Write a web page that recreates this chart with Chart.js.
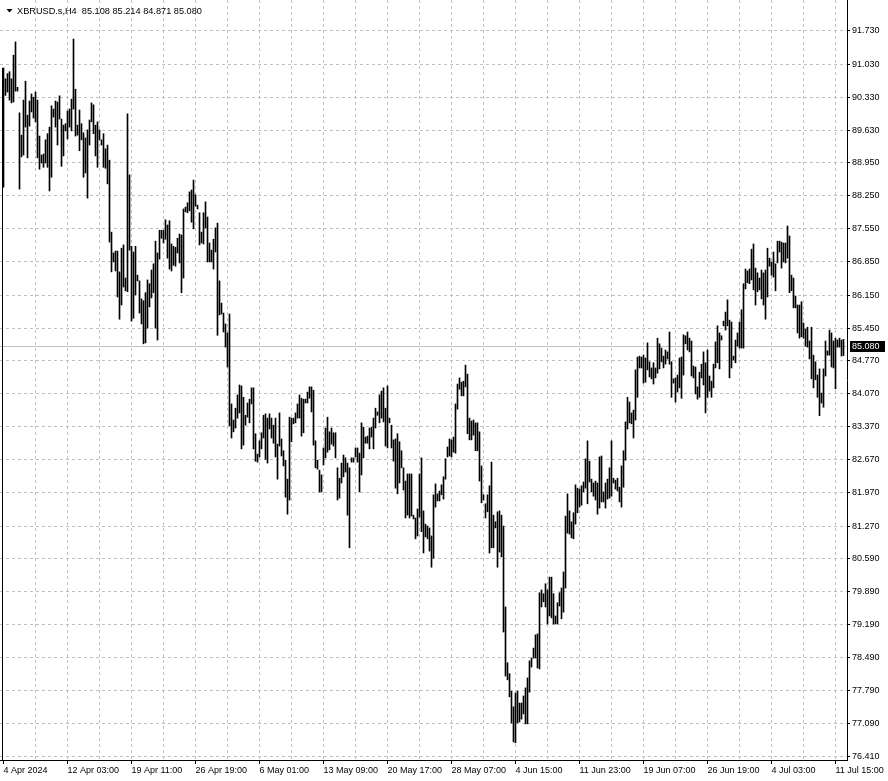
<!DOCTYPE html>
<html>
<head>
<meta charset="utf-8">
<script src="https://cdn.jsdelivr.net/npm/chart.js@4.4.1/dist/chart.umd.min.js"></script>
<style>
  html, body { margin: 0; padding: 0; background: #fff; }
  canvas { display: block; }
</style>
</head>
<body>
<canvas id="chart" width="888" height="781"></canvas>
<script>
const symbol = "XBRUSD.s,H4";
const lastBar = [85.108, 85.214, 84.871, 85.080]; // open high low close

// H4 bars (high / low per bar)
const highs = [
  90.95, 90.72, 90.83, 90.87, 90.72, 91.22, 91.50, 90.54, 90.00, 89.53,
  90.27, 90.67, 89.95, 90.25, 90.40, 90.33, 90.44, 90.27, 89.51, 89.11,
  89.13, 89.43, 89.56, 89.70, 90.15, 90.08, 90.25, 90.23, 90.36, 89.87,
  89.74, 89.77, 90.04, 90.08, 90.29, 91.56, 90.50, 89.74, 90.06, 89.77,
  89.58, 89.47, 89.64, 89.85, 90.21, 90.17, 89.74, 89.81, 89.64, 89.43,
  89.56, 89.24, 89.32, 89.00, 87.48, 87.04, 87.08, 87.08, 86.64, 87.14,
  87.21, 86.51, 89.98, 88.69, 87.18, 87.06, 87.18, 86.57, 86.45, 86.07,
  86.03, 86.20, 86.47, 86.39, 86.68, 86.81, 87.29, 87.04, 87.52, 87.52,
  87.52, 87.74, 87.63, 87.72, 87.23, 87.18, 87.16, 87.35, 87.44, 87.42,
  87.97, 88.01, 88.10, 88.33, 88.37, 88.58, 88.27, 88.05, 87.89, 87.48,
  87.89, 88.12, 87.80, 87.25, 87.10, 87.33, 87.57, 87.67, 86.45, 85.98,
  85.77, 85.54, 85.35, 85.75, 83.85, 83.51, 83.76, 84.04, 84.25, 84.23,
  83.99, 83.61, 83.87, 83.95, 84.19, 84.19, 83.22, 82.79, 83.07, 83.24,
  83.61, 83.64, 83.55, 83.64, 83.55, 83.40, 83.55, 83.00, 83.66, 83.11,
  82.86, 82.66, 82.26, 83.57, 83.55, 83.55, 83.66, 83.85, 84.04, 83.97,
  83.95, 83.95, 84.10, 84.21, 84.21, 84.14, 83.07, 82.66, 82.45, 82.35,
  82.92, 83.34, 83.57, 83.26, 83.34, 83.24, 83.24, 82.50, 82.28, 82.60,
  82.77, 82.71, 82.60, 82.50, 82.71, 82.71, 82.92, 82.92, 82.81, 83.45,
  83.36, 83.15, 83.17, 83.34, 83.36, 83.55, 83.76, 83.68, 84.04, 84.12,
  84.19, 83.76, 84.23, 83.55, 83.40, 83.09, 83.11, 83.22, 83.05, 82.86,
  82.50, 82.22, 82.37, 82.37, 82.37, 81.50, 81.44, 81.63, 82.37, 82.71,
  81.59, 81.31, 81.27, 81.23, 81.06, 81.93, 82.16, 81.95, 82.01, 82.14,
  82.31, 82.69, 82.94, 83.11, 83.09, 83.15, 83.85, 84.27, 84.40, 84.31,
  84.33, 84.67, 84.48, 83.55, 83.49, 83.51, 83.45, 83.45, 83.26, 82.54,
  81.93, 81.74, 81.93, 82.12, 82.62, 81.50, 81.36, 81.57, 81.59, 81.50,
  81.27, 79.56, 78.38, 78.15, 77.78, 77.45, 77.74, 77.78, 77.53, 77.53,
  77.68, 77.85, 78.06, 78.42, 78.48, 78.69, 78.97, 78.99, 79.86, 79.92,
  79.84, 80.05, 79.92, 80.19, 80.19, 79.84, 79.37, 79.65, 79.86, 79.96,
  80.30, 81.48, 81.95, 81.59, 81.36, 81.55, 82.14, 82.07, 82.05, 82.12,
  82.20, 82.69, 83.07, 82.64, 82.26, 82.18, 82.22, 82.18, 82.73, 82.75,
  81.99, 82.18, 82.26, 82.50, 83.07, 82.28, 82.24, 82.28, 82.09, 82.54,
  82.86, 83.47, 83.99, 83.89, 83.66, 83.72, 84.57, 84.84, 84.86, 84.84,
  84.88, 84.82, 85.14, 84.74, 84.61, 84.72, 84.61, 85.24, 85.12, 85.03,
  84.86, 84.99, 84.95, 85.37, 84.74, 84.38, 84.40, 84.46, 84.82, 84.84,
  85.31, 85.29, 85.37, 85.24, 85.18, 84.65, 84.63, 84.21, 84.52, 84.69,
  84.95, 84.72, 84.99, 84.44, 84.33, 84.69, 85.16, 85.50, 85.35, 85.29,
  85.60, 85.79, 86.05, 85.62, 85.58, 84.86, 85.20, 85.35, 85.58, 85.84,
  86.39, 86.70, 86.66, 86.70, 87.12, 87.23, 86.72, 86.62, 86.51, 86.68,
  86.62, 86.68, 87.14, 86.93, 86.85, 87.06, 86.81, 87.29, 87.29, 87.27,
  87.25, 87.25, 87.61, 87.40, 86.57, 86.51, 86.13, 85.94, 85.94, 86.01,
  85.56, 85.43, 85.47, 85.18, 85.47, 84.88, 84.74, 84.46, 84.59, 84.08,
  84.59, 85.18, 84.97, 85.41, 85.35, 85.18, 85.24, 85.20, 85.24, 85.20,
  85.214
];
const lows = [
  88.43, 90.37, 90.44, 90.27, 90.21, 90.23, 90.46, 90.46, 88.39, 89.07,
  89.11, 89.70, 89.05, 89.72, 90.02, 89.89, 89.81, 89.05, 88.81, 88.94,
  88.85, 88.94, 88.85, 88.35, 88.64, 89.91, 89.70, 89.32, 89.87, 88.87,
  89.09, 89.62, 89.45, 89.70, 89.62, 90.08, 89.51, 89.53, 89.20, 89.43,
  88.64, 88.73, 88.20, 89.32, 89.81, 89.56, 89.09, 88.85, 89.43, 89.32,
  88.85, 88.83, 88.50, 87.27, 86.64, 86.85, 86.66, 86.11, 85.64, 85.94,
  86.32, 86.24, 86.22, 87.10, 85.60, 85.66, 86.15, 86.45, 85.77, 85.54,
  85.12, 85.14, 85.45, 85.90, 86.09, 86.20, 85.45, 85.20, 86.91, 87.35,
  87.25, 87.33, 86.93, 86.70, 86.66, 86.78, 86.76, 87.04, 86.83, 86.20,
  86.51, 87.91, 87.89, 87.93, 87.69, 87.55, 88.03, 87.97, 87.21, 87.25,
  87.23, 87.57, 86.85, 86.85, 86.85, 86.70, 87.06, 85.30, 85.73, 85.75,
  85.37, 85.05, 84.63, 83.39, 83.13, 83.26, 83.34, 83.55, 83.66, 82.90,
  82.98, 83.40, 83.57, 83.45, 83.85, 82.90, 82.64, 82.62, 82.73, 82.90,
  83.13, 82.68, 82.60, 83.32, 83.13, 83.02, 82.73, 82.26, 82.96, 82.75,
  82.54, 81.88, 81.52, 81.82, 83.05, 83.43, 83.45, 83.55, 83.55, 83.17,
  83.24, 83.87, 83.87, 83.97, 83.68, 82.98, 82.50, 82.47, 81.99, 81.99,
  82.56, 82.71, 82.83, 82.88, 83.00, 82.96, 82.71, 81.82, 81.86, 82.18,
  82.31, 82.41, 81.50, 80.81, 82.62, 82.62, 82.73, 82.62, 81.99, 82.35,
  82.71, 83.02, 83.02, 82.90, 83.15, 82.90, 83.34, 83.61, 83.45, 83.55,
  83.47, 82.96, 82.92, 83.45, 82.92, 82.64, 82.07, 81.95, 82.18, 82.50,
  82.03, 81.44, 81.50, 81.44, 81.48, 81.42, 81.00, 81.06, 81.46, 81.15,
  80.70, 81.04, 81.00, 80.74, 80.40, 80.59, 81.67, 81.80, 81.80, 81.93,
  81.84, 82.26, 82.73, 82.75, 82.73, 82.83, 82.81, 83.74, 84.16, 84.02,
  84.02, 84.21, 83.22, 83.09, 83.09, 83.19, 82.86, 82.86, 82.22, 81.76,
  81.82, 81.44, 81.57, 80.70, 80.81, 80.81, 81.23, 80.40, 80.72, 80.62,
  79.03, 78.10, 78.02, 77.66, 77.11, 76.71, 76.69, 77.11, 77.13, 77.19,
  77.30, 77.09, 77.09, 77.76, 78.29, 78.48, 78.48, 78.27, 78.25, 79.56,
  79.67, 79.56, 79.20, 79.37, 79.33, 79.20, 79.20, 79.20, 79.58, 79.31,
  79.45, 79.96, 81.12, 81.10, 81.02, 81.00, 81.31, 81.55, 81.67, 81.71,
  81.99, 82.07, 81.74, 82.20, 81.99, 81.90, 81.82, 81.52, 81.65, 81.78,
  81.78, 81.65, 81.84, 81.86, 81.90, 82.18, 82.05, 82.01, 81.78, 81.67,
  82.09, 82.66, 83.32, 83.45, 83.43, 83.13, 83.51, 83.99, 84.61, 84.61,
  84.29, 84.31, 84.57, 84.42, 84.38, 84.27, 84.40, 84.50, 84.59, 84.74,
  84.61, 84.69, 84.80, 84.69, 83.99, 84.29, 83.89, 84.10, 84.19, 83.97,
  84.46, 85.12, 84.99, 84.95, 84.44, 84.40, 84.06, 83.95, 83.99, 84.40,
  84.25, 83.66, 83.99, 84.12, 83.99, 84.19, 84.61, 84.72, 84.59, 85.20,
  85.50, 85.41, 85.50, 84.40, 84.61, 84.78, 84.72, 85.07, 85.03, 85.03,
  85.03, 86.28, 86.41, 86.39, 86.47, 86.26, 85.94, 86.22, 86.26, 86.07,
  85.94, 85.64, 86.11, 86.76, 86.57, 86.53, 86.24, 86.83, 87.06, 86.72,
  86.85, 86.83, 86.93, 86.20, 86.24, 85.88, 85.88, 85.35, 85.24, 85.27,
  85.24, 85.07, 85.05, 84.80, 84.38, 84.19, 84.36, 83.99, 83.60, 83.87,
  83.78, 84.44, 84.88, 84.88, 84.63, 84.61, 84.17, 85.05, 85.05, 84.86,
  84.871
];

// one time label every 32 bars
const timeLabels = [
  "4 Apr 2024", "12 Apr 03:00", "19 Apr 11:00", "26 Apr 19:00", "6 May 01:00",
  "13 May 09:00", "20 May 17:00", "28 May 07:00", "4 Jun 15:00", "11 Jun 23:00",
  "19 Jun 07:00", "26 Jun 19:00", "4 Jul 03:00", "11 Jul 15:00"
];
const priceTicks = [
  91.730, 91.030, 90.330, 89.630, 88.950, 88.250, 87.550, 86.850, 86.150, 85.450,
  84.770, 84.070, 83.370, 82.670, 81.970, 81.270, 80.590, 79.890, 79.190, 78.490,
  77.790, 77.090, 76.410
];

const FONT = "'Liberation Sans', Arial, sans-serif";
const GRID = "#c0c0c0";
const NONE = "rgba(0,0,0,0)";

const bars = highs.map((h, i) => ({ x: i, y: [lows[i], h] }));

const decor = {
  id: "decor",
  beforeDatasetsDraw(chart) {
    const { ctx, chartArea, scales } = chart;
    ctx.save();
    // bid line
    const py = Math.round(scales.y.getPixelForValue(lastBar[3])) + 0.5;
    ctx.strokeStyle = GRID;
    ctx.lineWidth = 1;
    ctx.beginPath();
    ctx.moveTo(chartArea.left, py);
    ctx.lineTo(chartArea.right, py);
    ctx.stroke();
    // left edge
    ctx.strokeStyle = "#000";
    ctx.beginPath();
    ctx.moveTo(2.5, Math.round(scales.y.getPixelForValue(highs[0])));
    ctx.lineTo(2.5, chartArea.bottom);
    ctx.stroke();
    ctx.restore();
  },
  afterDraw(chart) {
    const { ctx, chartArea, scales } = chart;
    ctx.save();
    // price tag on the axis
    const py = Math.round(scales.y.getPixelForValue(lastBar[3]));
    ctx.fillStyle = "#000";
    ctx.fillRect(chartArea.right + 3, py - 5, 35, 11);
    ctx.fillStyle = "#fff";
    ctx.font = "9px " + FONT;
    ctx.textBaseline = "middle";
    ctx.textAlign = "left";
    ctx.fillText(lastBar[3].toFixed(3), chartArea.right + 5, py + 0.5);
    // title
    ctx.fillStyle = "#000";
    ctx.beginPath();
    ctx.moveTo(6.5, 9);
    ctx.lineTo(12.5, 9);
    ctx.lineTo(9.5, 12.5);
    ctx.closePath();
    ctx.fill();
    ctx.font = "9.2px " + FONT;
    ctx.fillText(symbol + "  " + lastBar.map(v => v.toFixed(3)).join(" "), 17, 11);
    ctx.restore();
  }
};

new Chart(document.getElementById("chart"), {
  type: "bar",
  data: {
    datasets: [{
      data: bars,
      backgroundColor: "#000",
      borderWidth: 0,
      barThickness: 1,
      grouped: false
    }]
  },
  options: {
    responsive: false,
    animation: false,
    events: [],
    layout: { padding: 0 },
    plugins: { legend: { display: false }, tooltip: { enabled: false } },
    scales: {
      x: {
        type: "linear",
        min: -1.75,
        max: 421.75,
        offset: false,
        afterBuildTicks: s => {
          const t = [];
          for (let v = 0; v <= 416; v += 16) t.push({ value: v });
          s.ticks = t;
        },
        afterFit: s => { s.height = 21; s.paddingLeft = 0; s.paddingRight = 0; },
        ticks: {
          autoSkip: false, maxRotation: 0, minRotation: 0, align: "start",
          padding: 1, color: "#000", font: { family: FONT, size: 9 },
          callback: v => (v % 32 === 0 ? timeLabels[v / 32] : "")
        },
        grid: {
          offset: false,
          color: c => (c.tick && c.tick.value === 0 ? NONE : GRID),
          tickLength: 4,
          tickColor: c => (c.tick && c.tick.value % 32 === 0 ? "#000" : NONE)
        },
        border: { display: true, color: "#000", width: 1, dash: [3, 3] }
      },
      y: {
        position: "right",
        min: 76.326,
        max: 92.385,
        beginAtZero: false,
        afterBuildTicks: s => { s.ticks = priceTicks.map(v => ({ value: v })); },
        afterFit: s => { s.width = 41; s.paddingTop = 0; s.paddingBottom = 0; },
        ticks: {
          autoSkip: false, padding: 2, color: "#000", font: { family: FONT, size: 9 },
          callback: v => Number(v).toFixed(3)
        },
        grid: { color: GRID, tickLength: 3, tickColor: "#000" },
        border: { display: true, color: "#000", width: 1, dash: [3, 3] }
      }
    }
  },
  plugins: [decor]
});
</script>
</body>
</html>
